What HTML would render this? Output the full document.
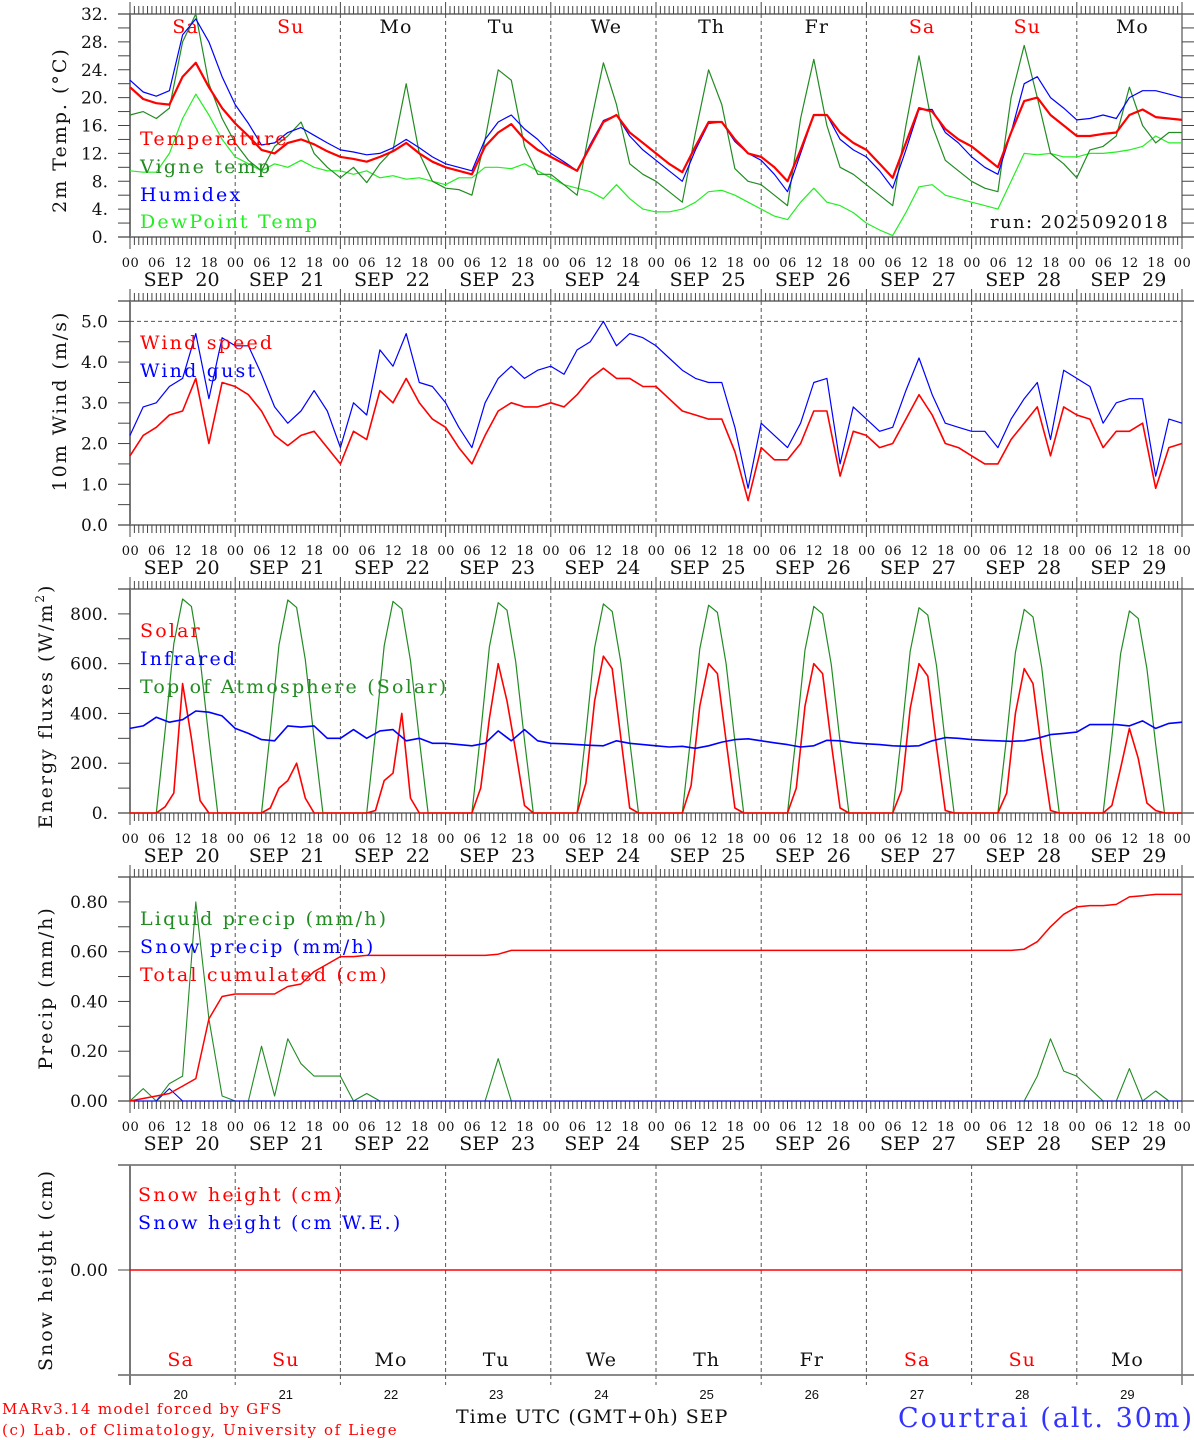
<!DOCTYPE html>
<html><head><meta charset="utf-8"><style>
html,body{margin:0;padding:0;background:#fff;}
svg{display:block;font-family:"DejaVu Serif","Liberation Serif",serif;}
</style></head><body>
<svg id="chart" width="1194" height="1440" viewBox="0 0 1194 1440" xmlns="http://www.w3.org/2000/svg"></svg>
<script>
// ---- data (3-hourly from SEP 20 00 UTC) ----
const days = ["20","21","22","23","24","25","26","27","28","29"];
const dayNames = ["Sa","Su","Mo","Tu","We","Th","Fr","Sa","Su","Mo"];
const tempVals = [21.5,19.8,19.2,19,23,25,21.5,18.5, 16.3,14.5,12.5,12,13.5,14,13.3,12.3, 11.5,11.2,10.8,11.5,12.3,13.5,12,10.8, 10,9.5,9,13,15,16.2,14,12.5, 11.5,10.5,9.5,13,16.5,17.5,15,13.5, 12,10.5,9.3,13,16.5,16.5,14,12, 11.5,10,8,12.5,17.5,17.5,15,13.5, 12.5,10.5,8.5,13.5,18.5,18,15.5,14, 13,11.5,10,15,19.5,20,17.5,16, 14.5,14.5,14.8,15,17.5,18.3,17.2,17,16.8];
const humidexVals = [22.5,20.8,20.2,21,29,31.3,28,23, 19,16.3,13.2,13.5,15,15.7,14.6,13.5, 12.5,12.2,11.8,12,12.8,14,12.8,11.5, 10.5,10,9.5,14,16.5,17.5,15.5,14, 12,10.8,9.5,13.3,16.7,17.5,14.5,12.5, 11,9.5,8,12.5,16.3,16.5,13.7,12, 11,9,6.5,12,17.5,17.5,14,12.5, 11.5,9.5,7,12.5,18.3,18.3,15,13.5, 11.5,10,9,15,22,23,20,18.5, 16.8,17,17.5,17,20,21,21,20.5,20];
const vigneVals = [17.5,18,17,18.5,28,32,22,17, 13.5,11,9.5,13,14.5,16.5,12,10, 8.5,10,7.8,10.5,12.5,22,12,8, 7,6.8,6,14,24,22.5,13,9, 9,7.5,6,16,25,19,10.5,9, 8,6.5,5,15,24,19,9.8,8, 7.5,6,4.5,17,25.5,16,10,9, 7.5,6,4.5,16,26,16,11,9.5, 8,7,6.5,20,27.5,20,12,10.5, 8.5,12.5,13,14.5,21.5,16,13.5,15,15];
const dewVals = [9.5,9.3,9.3,12,17,20.5,17.5,14, 11.5,10.5,9.5,10.5,10,11,10,9.5, 9.5,9,9.5,8.5,8.8,8.3,8.5,8, 7.5,8.5,8.5,10,10,9.8,10.5,9.5, 8.5,7.5,7,6.5,5.5,7.5,5.5,4, 3.6,3.6,4,5,6.5,6.7,6,5, 4,3,2.5,5,7,5,4.5,3.5, 2,1,0.2,3.5,7.2,7.5,6,5.5, 5,4.5,4,8,12,11.8,12,11.5, 11.5,12,12,12.2,12.5,13,14.5,13.5,13.5];
const windVals = [1.7,2.2,2.4,2.7,2.8,3.6,2.0,3.5, 3.4,3.2,2.8,2.2,1.95,2.2,2.3,1.9, 1.5,2.3,2.1,3.3,3.0,3.6,3.0,2.6, 2.4,1.9,1.5,2.2,2.8,3.0,2.9,2.9, 3.0,2.9,3.2,3.6,3.85,3.6,3.6,3.4, 3.4,3.1,2.8,2.7,2.6,2.6,1.8,0.6, 1.9,1.6,1.6,2.0,2.8,2.8,1.2,2.3, 2.2,1.9,2.0,2.6,3.2,2.7,2.0,1.9, 1.7,1.5,1.5,2.1,2.5,2.9,1.7,2.9, 2.7,2.6,1.9,2.3,2.3,2.5,0.9,1.9,2.0];
const gustVals = [2.2,2.9,3.0,3.4,3.6,4.7,3.1,4.6, 4.4,4.4,3.7,2.9,2.5,2.8,3.3,2.8, 1.9,3.0,2.7,4.3,3.9,4.7,3.5,3.4, 3.0,2.4,1.9,3.0,3.6,3.9,3.6,3.8, 3.9,3.7,4.3,4.5,5.0,4.4,4.7,4.6, 4.4,4.1,3.8,3.6,3.5,3.5,2.4,0.9, 2.5,2.2,1.9,2.5,3.5,3.6,1.5,2.9, 2.6,2.3,2.4,3.3,4.1,3.2,2.5,2.4, 2.3,2.3,1.9,2.6,3.1,3.5,2.1,3.8, 3.6,3.4,2.5,3.0,3.1,3.1,1.2,2.6,2.5];
const irVals = [340,350,385,365,375,410,405,390, 340,320,295,290,350,345,350,300, 300,335,300,330,335,290,300,280, 280,275,270,280,330,290,335,290, 280,278,275,272,270,290,280,275, 270,265,268,260,270,285,295,298, 290,282,275,265,270,292,290,282, 278,275,270,268,270,290,303,300, 295,292,290,288,290,300,315,320, 325,355,355,355,350,370,340,360,365];
// 2-hourly daytime values (hours 4..20) per day
const toaVals = [
 [0,0,330,680,860,830,620,300,0],[0,0,328,676,856,826,616,298,0],[0,0,325,672,850,820,612,296,0],
 [0,0,322,668,845,815,608,292,0],[0,0,320,664,840,810,604,290,0],[0,0,318,660,835,806,600,288,0],
 [0,0,315,655,830,800,596,285,0],[0,0,312,650,825,795,592,282,0],[0,0,308,645,818,788,586,278,0],
 [0,0,305,640,812,782,580,275,0]];
const solarVals = [
 [0,0,25,80,520,300,50,0,0],[0,0,20,100,130,200,60,0,0],[0,0,10,130,160,400,60,0,0],
 [0,0,100,380,600,450,250,30,0],[0,0,120,450,630,580,300,20,0],[0,0,110,430,600,560,290,20,0],
 [0,0,100,430,600,560,280,20,0],[0,0,90,420,600,550,270,10,0],[0,0,80,400,580,520,250,10,0],
 [0,0,30,180,340,220,40,10,0]];
const liquidVals = [0,0.05,0,0.07,0.1,0.8,0.33,0.02, 0,0,0.22,0.02,0.25,0.15,0.1,0.1, 0.1,0,0.03,0,0,0,0,0, 0,0,0,0,0.17,0,0,0, 0,0,0,0,0,0,0,0, 0,0,0,0,0,0,0,0, 0,0,0,0,0,0,0,0, 0,0,0,0,0,0,0,0, 0,0,0,0,0,0.1,0.25,0.12, 0.1,0.05,0,0,0.13,0,0.04,0,0];
const snowPrecipVals = [0,0,0,0.05,0,0,0,0, 0,0,0,0,0,0,0,0, 0,0,0,0,0,0,0,0, 0,0,0,0,0,0,0,0, 0,0,0,0,0,0,0,0, 0,0,0,0,0,0,0,0, 0,0,0,0,0,0,0,0, 0,0,0,0,0,0,0,0, 0,0,0,0,0,0,0,0, 0,0,0,0,0,0,0,0,0];
const cumVals = [0,0.01,0.02,0.03,0.06,0.09,0.33,0.42, 0.43,0.43,0.43,0.43,0.46,0.47,0.52,0.55, 0.58,0.58,0.585,0.585,0.585,0.585,0.585,0.585, 0.585,0.585,0.585,0.585,0.59,0.605,0.605,0.605, 0.605,0.605,0.605,0.605,0.605,0.605,0.605,0.605, 0.605,0.605,0.605,0.605,0.605,0.605,0.605,0.605, 0.605,0.605,0.605,0.605,0.605,0.605,0.605,0.605, 0.605,0.605,0.605,0.605,0.605,0.605,0.605,0.605, 0.605,0.605,0.605,0.605,0.61,0.64,0.7,0.75, 0.78,0.785,0.785,0.79,0.82,0.825,0.83,0.83,0.83];
const snowHeightVals = [0,0];
const tempTicks = ["0.","4.","8.","12.","16.","20.","24.","28.","32."];
const windTicks = ["0.0","1.0","2.0","3.0","4.0","5.0"];
const energyTicks = ["0.","200.","400.","600.","800."];
const precipTicks = ["0.00","0.20","0.40","0.60","0.80"];

// ---- layout ----
const svg = document.getElementById('chart');
const NS = 'http://www.w3.org/2000/svg';
const X0 = 130, X1 = 1182, DW = (X1 - X0) / 10;
function xH(h){ return X0 + h * DW / 24; }
function mk(tag, attrs, parent){ const e = document.createElementNS(NS, tag); for (const k in attrs) e.setAttribute(k, attrs[k]); (parent||svg).appendChild(e); return e; }
function txt(s, x, y, size, color, anchor, parent, ls){ const t = mk('text', {x:x, y:y, 'font-size':size, fill:color, 'text-anchor':anchor||'start'}, parent); if (ls) t.setAttribute('letter-spacing', ls); t.textContent = s; return t; }

const panels = [
 {name:'temperature', top:14, bottom:237, vmin:0, vmax:32},
 {name:'wind', top:301, bottom:525, vmin:0, vmax:5.5},
 {name:'energy', top:589, bottom:813, vmin:0, vmax:900},
 {name:'precip', top:877, bottom:1101, vmin:0, vmax:0.9},
 {name:'snow', top:1165, bottom:1375, vmin:-1, vmax:1}
];
function yScale(p){ return v => p.bottom - (v - p.vmin) / (p.vmax - p.vmin) * (p.bottom - p.top); }

function frame(p, idx){
  const g = mk('g', {});
  
  
  mk('line', {x1:118, y1:p.top, x2:1194, y2:p.top, stroke:'#444', 'stroke-width':1.3}, g);
  mk('line', {x1:118, y1:p.bottom, x2:1194, y2:p.bottom, stroke:'#444', 'stroke-width':1.3}, g);
  mk('line', {x1:X0, y1:p.top, x2:X0, y2:p.bottom+ (idx===4?10:0), stroke:'#777', 'stroke-width':2}, g);
  mk('line', {x1:X1, y1:p.top, x2:X1, y2:p.bottom+(idx===4?10:0), stroke:'#777', 'stroke-width':1.5}, g);
  for (let d = 1; d < 10; d++){
    mk('line', {x1:X0+d*DW, y1:p.top, x2:X0+d*DW, y2:p.bottom+(idx===4?10:0), stroke:'#555', 'stroke-width':1, 'stroke-dasharray':'4,3'}, g);
  }
  if (idx < 4){
    for (let h = 0; h <= 240; h++){
      const x = xH(h), big = h % 24 === 0;
      mk('line', {x1:x, y1:p.top, x2:x, y2:p.top - (big?12:8), stroke:'#444', 'stroke-width':1}, g);
      mk('line', {x1:x, y1:p.bottom, x2:x, y2:p.bottom + (big?12:8), stroke:'#444', 'stroke-width':1}, g);
    }
    for (let d = 0; d <= 10; d++){
      const hrs = d < 10 ? ['00','06','12','18'] : ['00'];
      hrs.forEach((s, k) => { const t = txt(s, xH(d*24 + k*6) + 0.5, p.bottom + 30, 13, '#111', 'middle', g, 0.5);
          });
      if (d < 10){ const t = txt('SEP  ' + days[d], X0 + d*DW + DW/2 - 1, p.bottom + 49, 19, '#111', 'middle', g);
          t.style.whiteSpace='pre'; }
    }
  }
  return g;
}
function yAxis(p, g, ticks, step, minor, fmtSize){
  const y = yScale(p);
  for (let v = p.vmin; v <= p.vmax + 1e-9; v += minor){
    mk('line', {x1:118, y1:y(v), x2:X0, y2:y(v), stroke:'#444', 'stroke-width':1}, g);
  }
  ticks.forEach((s, i) => { const t = txt(s, 108, y(i*step) + 6, fmtSize, '#111', 'end', g);
      });
}
function line(data, p, color, w, name, g, step){
  const y = yScale(p);
  const pts = data.map((v, i) => xH(i*(step||3)).toFixed(1) + ',' + y(v).toFixed(1)).join(' ');
  const pl = mk('polyline', {points:pts, fill:'none', stroke:color, 'stroke-width':w, 'stroke-linejoin':'round'}, g);
  
  
  return pl;
}
function dailyLine(arr, p, color, w, name, g){
  const y = yScale(p);
  const pts = [];
  arr.forEach((dayArr, d) => dayArr.forEach((v, k) => pts.push(xH(d*24 + 4 + k*2).toFixed(1) + ',' + y(v).toFixed(1))));
  pts.unshift(xH(0) + ',' + y(0)); pts.push(xH(240) + ',' + y(0));
  const pl = mk('polyline', {points:pts.join(' '), fill:'none', stroke:color, 'stroke-width':w, 'stroke-linejoin':'round'}, g);
  
  
}
function ytitle(s, x, y, g){ const t = txt(s, x, y, 19, '#111', 'middle', g, 2); t.setAttribute('transform', 'rotate(-90 ' + x + ' ' + y + ')');
    return t; }
function legend(s, x, y, color, g){ const t = txt(s, x, y, 19, color, 'start', g, 2.2);
    }

// Panel 1: temperature
let p = panels[0], g = frame(p, 0);
yAxis(p, g, tempTicks, 4, 2, 17);
for (let v = 0; v <= 32; v += 2){ const y = yScale(p)(v); mk('line', {x1:X1, y1:y, x2:1194, y2:y, stroke:'#444','stroke-width':1}, g); }
dayNames.forEach((n, d) => { const t = txt(n, X0 + d*DW + DW/2 + 3, 33, 19, (n==='Sa'||n==='Su')?'#f00':'#111', 'middle', g, 1);
    });
line(dewVals, p, '#22ee22', 1.2, 'dewpoint-line', g);
line(vigneVals, p, '#228b22', 1.2, 'vigne-temp-line', g);
line(humidexVals, p, '#0000ff', 1.2, 'humidex-line', g);
line(tempVals, p, '#ff0000', 2.2, 'temperature-line', g);
legend('Temperature', 140, 145, '#f00', g);
legend('Vigne temp', 140, 173, '#228b22', g);
legend('Humidex', 140, 201, '#00f', g);
legend('DewPoint Temp', 140, 228, '#22ee22', g);
let t = txt('run: 2025092018', 990, 228, 18, '#111', 'start', g, 1.4);  
ytitle('2m Temp. (°C)', 66, 130, g);

// Panel 2: wind
p = panels[1]; g = frame(p, 1);
yAxis(p, g, windTicks, 1, 0.5, 17);
mk('line', {x1:X0, y1:yScale(p)(5), x2:X1, y2:yScale(p)(5), stroke:'#555', 'stroke-dasharray':'4,3', 'stroke-width':1}, g);
line(gustVals, p, '#0000ff', 1.2, 'wind-gust-line', g);
line(windVals, p, '#ff0000', 1.6, 'wind-speed-line', g);
legend('Wind speed', 140, 349, '#f00', g);
legend('Wind gust', 140, 377, '#00f', g);
ytitle('10m Wind (m/s)', 66, 401, g);

// Panel 3: energy
p = panels[2]; g = frame(p, 2);
yAxis(p, g, energyTicks, 200, 100, 17);
dailyLine(toaVals, p, '#228b22', 1.2, 'toa-solar-line', g);
dailyLine(solarVals, p, '#ff0000', 1.6, 'solar-line', g);
line(irVals, p, '#0000ff', 1.6, 'infrared-line', g);
legend('Solar', 140, 637, '#f00', g);
legend('Infrared', 140, 665, '#00f', g);
legend('Top of Atmosphere (Solar)', 140, 693, '#228b22', g);
t = ytitle('Energy fluxes (W/m', 52, 706, g);
const sup = mk('tspan', {dy:-8, 'font-size':12}, t); sup.textContent = '2';
const cl = mk('tspan', {dy:8}, t); cl.textContent = ')';

// Panel 4: precip
p = panels[3]; g = frame(p, 3);
yAxis(p, g, precipTicks, 0.2, 0.1, 17);
line(liquidVals, p, '#228b22', 1.1, 'liquid-precip-line', g);
line(snowPrecipVals, p, '#0000ff', 1.1, 'snow-precip-line', g);
line(cumVals, p, '#ff0000', 1.5, 'cumulated-precip-line', g);
legend('Liquid precip (mm/h)', 140, 925, '#228b22', g);
legend('Snow precip (mm/h)', 140, 953, '#00f', g);
legend('Total cumulated (cm)', 140, 981, '#f00', g);
ytitle('Precip (mm/h)', 52, 988, g);

// Panel 5: snow
p = panels[4]; g = frame(p, 4);
mk('line', {x1:118, y1:yScale(p)(0), x2:X0, y2:yScale(p)(0), stroke:'#444'}, g);
t = txt('0.00', 108, yScale(p)(0) + 6, 17, '#111', 'end', g);  
{ const y = yScale(p); const pl = mk('line', {x1:xH(0), y1:y(snowHeightVals[0]), x2:xH(240), y2:y(snowHeightVals[1]), stroke:'#ff0000', 'stroke-width':1.5}, g);
    }
legend('Snow height (cm)', 138, 1201, '#f00', g);
legend('Snow height (cm W.E.)', 138, 1229, '#00f', g);
ytitle('Snow height (cm)', 52, 1270, g);
dayNames.forEach((n, d) => { const t = txt(n, X0 + d*DW + DW/2 - 2, 1366, 19, (n==='Sa'||n==='Su')?'#f00':'#111', 'middle', g, 1);
    });
days.forEach((n, d) => { const t = txt(n, X0 + d*DW + DW/2 - 2, 1399, 13, '#111', 'middle', g);
  t.style.fontFamily = '"Liberation Sans",sans-serif';
    });

t = txt('Time UTC (GMT+0h) SEP', 456, 1423, 19, '#111', 'start', null, 1);  
t = txt('MARv3.14 model forced by GFS', 2, 1414, 15, '#f00', 'start', null, 1.3);  
t = txt('(c) Lab. of Climatology, University of Liege', 2, 1435, 15, '#f00', 'start', null, 1.6);  
t = txt('Courtrai (alt. 30m)', 898, 1427, 27, '#3333ff', 'start', null, 2);  
</script>
</body></html>
